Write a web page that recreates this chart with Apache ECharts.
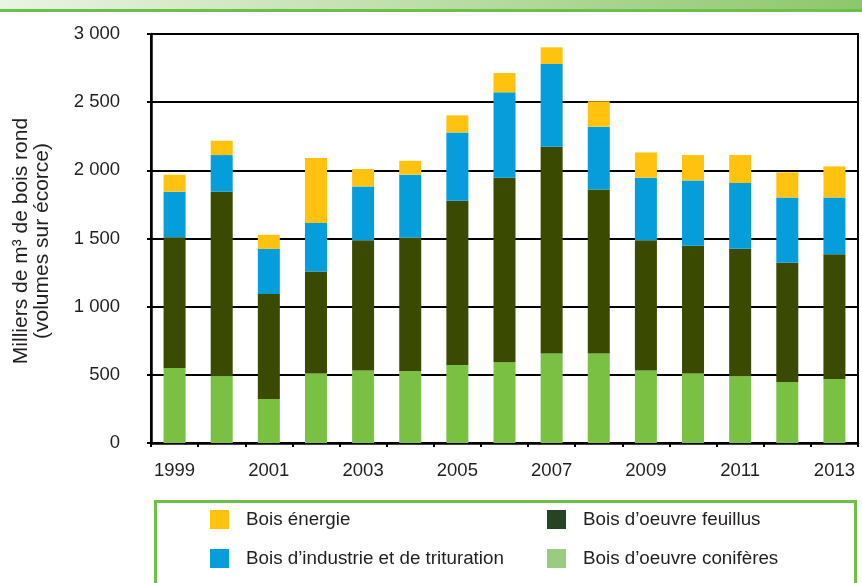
<!DOCTYPE html>
<html>
<head>
<meta charset="utf-8">
<script src="https://cdn.jsdelivr.net/npm/echarts@6/dist/echarts.min.js"></script>
<style>
html,body{margin:0;padding:0;background:#fff;}
#chart{width:862px;height:583px;}
</style>
</head>
<body>
<div id="chart"></div>
<script>
const years = ['1999','2000','2001','2002','2003','2004','2005','2006','2007','2008','2009','2010','2011','2012','2013'];
const conifers = [551, 490, 323, 509, 531, 529, 573, 592, 656, 656, 531, 509, 490, 448, 470];
const hardwood = [959, 1353, 769, 749, 957, 978, 1204, 1354, 1517, 1204, 957, 937, 934, 874, 915];
const industry = [333, 269, 332, 355, 394, 461, 501, 626, 607, 460, 458, 480, 483, 479, 416];
const energy = [125, 105, 103, 477, 128, 102, 125, 142, 122, 186, 185, 186, 205, 184, 228];
const yTicks = [0, 500, 1000, 1500, 2000, 2500, 3000];
const seriesNames = ['Bois énergie', 'Bois d’industrie et de trituration', 'Bois d’oeuvre feuillus', 'Bois d’oeuvre conifères'];
const yTitle = 'Milliers de m³ de bois rond\n(volumes sur écorce)';

const FONT = '"Liberation Sans", Arial, sans-serif';
const TXT = '#231F20';
const barColors = { energy: '#FFC20E', industry: '#069DDB', hardwood: '#3B4A01', conifers: '#7AC143' };
const legendColors = { energy: '#FFC20E', industry: '#069DDB', hardwood: '#254421', conifers: '#99CC80' };

const chart = echarts.init(document.getElementById('chart'), null, { renderer: 'canvas' });

function fmt(v) {
  const s = String(v);
  return s.length > 3 ? s.slice(0, s.length - 3) + ' ' + s.slice(-3) : s;
}

const legendBase = {
  orient: 'vertical',
  top: 510,
  padding: 0,
  itemWidth: 19,
  itemHeight: 19,
  itemGap: 20,
  icon: 'rect',
  selectedMode: false,
  textStyle: { fontFamily: FONT, fontSize: 18.8, color: TXT, padding: [0, 0, 0, 12] }
};

chart.setOption({
  animation: false,
  backgroundColor: '#fff',
  grid: { left: 151, right: 4, top: 34, bottom: 140, show: true, borderColor: '#000', borderWidth: 2 },
  legend: [
    Object.assign({}, legendBase, {
      left: 210,
      data: [
        { name: seriesNames[0], itemStyle: { color: legendColors.energy } },
        { name: seriesNames[1], itemStyle: { color: legendColors.industry } }
      ]
    }),
    Object.assign({}, legendBase, {
      left: 547,
      data: [
        { name: seriesNames[2], itemStyle: { color: legendColors.hardwood } },
        { name: seriesNames[3], itemStyle: { color: legendColors.conifers } }
      ]
    })
  ],
  xAxis: {
    type: 'category',
    data: years,
    boundaryGap: true,
    axisLine: { lineStyle: { color: '#000', width: 2.5 } },
    axisTick: { show: true, interval: 0, length: 4, lineStyle: { color: '#000', width: 2 } },
    axisLabel: { interval: 1, margin: 18, fontFamily: FONT, fontSize: 18.5, color: TXT }
  },
  yAxis: {
    type: 'value',
    min: yTicks[0],
    max: yTicks[yTicks.length - 1],
    interval: 500,
    axisLine: { show: true, lineStyle: { color: '#000', width: 2.5 } },
    axisTick: { show: true, length: 4, lineStyle: { color: '#000', width: 2 } },
    splitLine: { show: true, lineStyle: { color: '#000', width: 2 } },
    axisLabel: { margin: 31, fontFamily: FONT, fontSize: 18.5, color: TXT, formatter: fmt }
  },
  series: [
    { name: seriesNames[3], type: 'bar', stack: 't', barWidth: 22, data: conifers, itemStyle: { color: barColors.conifers } },
    { name: seriesNames[2], type: 'bar', stack: 't', barWidth: 22, data: hardwood, itemStyle: { color: barColors.hardwood } },
    { name: seriesNames[1], type: 'bar', stack: 't', barWidth: 22, data: industry, itemStyle: { color: barColors.industry } },
    { name: seriesNames[0], type: 'bar', stack: 't', barWidth: 22, data: energy, itemStyle: { color: barColors.energy } }
  ],
  graphic: [
    {
      type: 'rect', left: 0, top: 0, z: 10,
      shape: { width: 862, height: 9 },
      style: { fill: new echarts.graphic.LinearGradient(0, 0, 1, 0, [
        { offset: 0, color: '#EAF4E3' }, { offset: 1, color: '#8DC76B' }
      ]) }
    },
    {
      type: 'rect', left: 0, top: 9, z: 10,
      shape: { width: 862, height: 3 },
      style: { fill: '#6CBF4A' }
    },
    {
      type: 'rect', left: 153, top: 499, z: 10,
      shape: { width: 700, height: 120 },
      style: { fill: 'none', stroke: '#6CBF4A', lineWidth: 3 }
    },
    {
      type: 'text', x: 32, y: 241, rotation: Math.PI / 2, z: 10,
      style: { text: yTitle, fontFamily: FONT, fontSize: 21, lineHeight: 21, fill: TXT, textAlign: 'center', textVerticalAlign: 'middle' }
    }
  ]
});
</script>
</body>
</html>
